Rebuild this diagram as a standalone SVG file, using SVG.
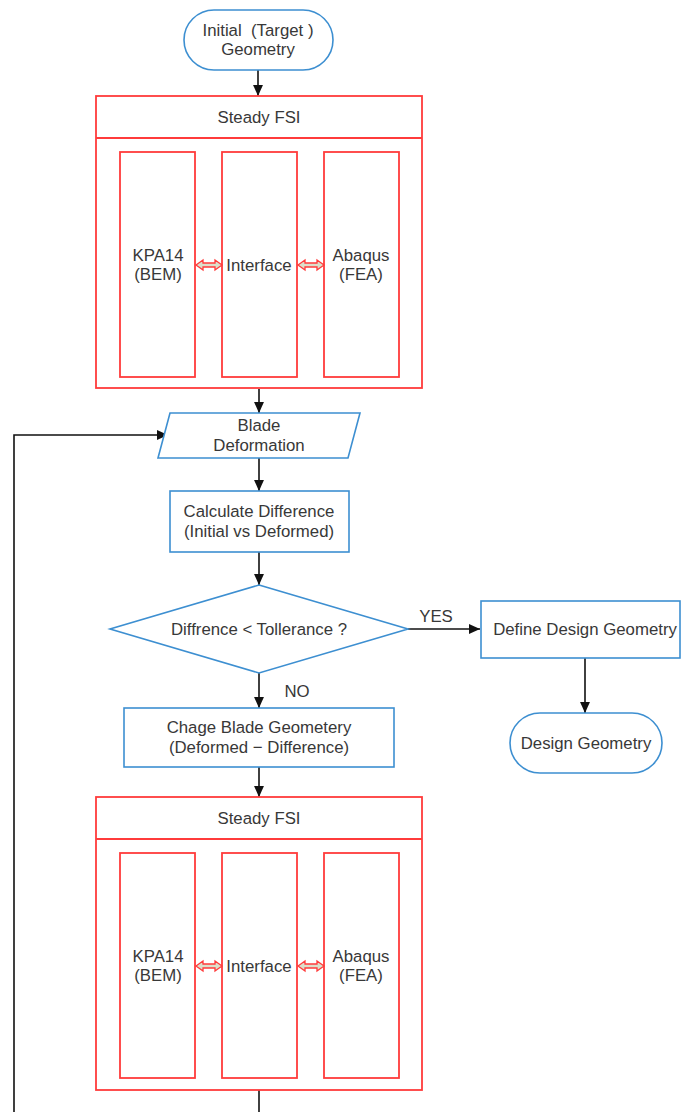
<svg xmlns="http://www.w3.org/2000/svg" width="681" height="1112" viewBox="0 0 681 1112">
  <style>
    .txt { font-family: "Liberation Sans", Arial, sans-serif; font-size: 16.8px; fill: #383838; text-anchor: middle; dominant-baseline: central; white-space: pre; }
    .blue { fill: #ffffff; stroke: #3d8fd1; stroke-width: 1.6; }
    .red { fill: #ffffff; stroke: #ff3b3b; stroke-width: 1.8; }
    .dbl { fill: #dcdfca; stroke: #ff3b3b; stroke-width: 1.3; stroke-linejoin: miter; }
    .edge { fill: none; stroke: #111111; stroke-width: 1.6; }
  </style>
  <defs>
    <marker id="ah" viewBox="0 0 10 10" refX="10" refY="5" markerWidth="11" markerHeight="11" markerUnits="userSpaceOnUse" orient="auto">
      <path d="M0,0.5 L10,5 L0,9.5 z" fill="#111111"/>
    </marker>
    <!-- two-headed block arrow used between the FSI sub-blocks -->
    <path id="dblArrow" d="M0,0 L7,-5 L7,-2 L19,-2 L19,-5 L26,0 L19,5 L19,2 L7,2 L7,5 Z"/>
  </defs>

  <rect width="681" height="1112" fill="#ffffff"/>

  <!-- connectors -->
  <g id="connectors">
    <line class="edge" x1="258" y1="70" x2="258" y2="96" marker-end="url(#ah)"/>
    <line class="edge" x1="259" y1="389" x2="259" y2="413" marker-end="url(#ah)"/>
    <line class="edge" x1="259" y1="458" x2="259" y2="491" marker-end="url(#ah)"/>
    <line class="edge" x1="259" y1="552" x2="259" y2="585" marker-end="url(#ah)"/>
    <line class="edge" x1="408" y1="629" x2="480" y2="629" marker-end="url(#ah)"/>
    <line class="edge" x1="585" y1="658" x2="585" y2="713" marker-end="url(#ah)"/>
    <line class="edge" x1="259" y1="673" x2="259" y2="708" marker-end="url(#ah)"/>
    <line class="edge" x1="259" y1="767" x2="259" y2="797" marker-end="url(#ah)"/>
    <polyline class="edge" points="259,1090 259,1112"/>
    <polyline class="edge" points="14,1112 14,435 168,435" marker-end="url(#ah)"/>
    <text class="txt" x="436" y="616">YES</text>
    <text class="txt" x="297" y="691">NO</text>
  </g>

  <!-- start terminator -->
  <g id="initial-geometry">
    <rect class="blue" x="184" y="10" width="149" height="60" rx="30" ry="30"/>
    <text class="txt" x="258" y="30">Initial  (Target )</text>
    <text class="txt" x="258" y="49">Geometry</text>
  </g>

  <!-- first steady FSI block -->
  <g id="steady-fsi-1">
    <rect class="red" x="96" y="96" width="326" height="292"/>
    <line class="red" x1="96" y1="138" x2="422" y2="138"/>
    <text class="txt" x="259" y="117">Steady FSI</text>
    <rect class="red" x="120" y="152" width="75" height="225"/>
    <rect class="red" x="222" y="152" width="75" height="225"/>
    <rect class="red" x="324" y="152" width="75" height="225"/>
    <text class="txt" x="158" y="255">KPA14</text>
    <text class="txt" x="158" y="274">(BEM)</text>
    <text class="txt" x="259" y="265">Interface</text>
    <text class="txt" x="361" y="255">Abaqus</text>
    <text class="txt" x="361" y="274">(FEA)</text>
    <use href="#dblArrow" class="dbl" x="196" y="265"/>
    <use href="#dblArrow" class="dbl" x="298" y="265"/>
  </g>

  <!-- data node -->
  <g id="blade-deformation">
    <polygon class="blue" points="170,413 360,413 348,458 158,458"/>
    <text class="txt" x="259" y="425">Blade</text>
    <text class="txt" x="259" y="445">Deformation</text>
  </g>

  <g id="calculate-difference">
    <rect class="blue" x="170" y="491" width="179" height="61"/>
    <text class="txt" x="259" y="511">Calculate Difference</text>
    <text class="txt" x="259" y="531">(Initial vs Deformed)</text>
  </g>

  <g id="tolerance-check">
    <polygon class="blue" points="259,585 408,629 259,673 110,629"/>
    <text class="txt" x="259" y="629">Diffrence &lt; Tollerance ?</text>
  </g>

  <g id="define-design-geometry">
    <rect class="blue" x="481" y="601" width="199" height="57"/>
    <text class="txt" x="585" y="629">Define Design Geometry</text>
  </g>

  <g id="design-geometry">
    <rect class="blue" x="510" y="713" width="152" height="60" rx="30" ry="30"/>
    <text class="txt" x="586" y="743">Design Geometry</text>
  </g>

  <g id="change-blade-geometry">
    <rect class="blue" x="124" y="708" width="270" height="59"/>
    <text class="txt" x="259" y="727">Chage Blade Geometery</text>
    <text class="txt" x="259" y="747">(Deformed − Difference)</text>
  </g>

  <!-- second steady FSI block -->
  <g id="steady-fsi-2">
    <rect class="red" x="96" y="797" width="326" height="293"/>
    <line class="red" x1="96" y1="839" x2="422" y2="839"/>
    <text class="txt" x="259" y="818">Steady FSI</text>
    <rect class="red" x="120" y="853" width="75" height="225"/>
    <rect class="red" x="222" y="853" width="75" height="225"/>
    <rect class="red" x="324" y="853" width="75" height="225"/>
    <text class="txt" x="158" y="956">KPA14</text>
    <text class="txt" x="158" y="975">(BEM)</text>
    <text class="txt" x="259" y="966">Interface</text>
    <text class="txt" x="361" y="956">Abaqus</text>
    <text class="txt" x="361" y="975">(FEA)</text>
    <use href="#dblArrow" class="dbl" x="196" y="966"/>
    <use href="#dblArrow" class="dbl" x="298" y="966"/>
  </g>
</svg>
